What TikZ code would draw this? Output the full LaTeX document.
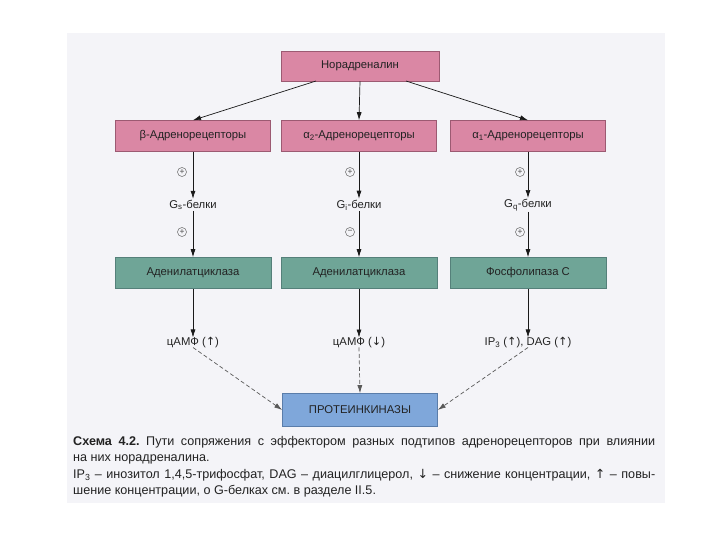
\documentclass[tikz,border=0pt]{standalone}
\usepackage{fontspec}
\setmainfont{Liberation Sans}
\newfontfamily\dvs{DejaVu Sans}
\usetikzlibrary{arrows.meta}
\definecolor{pagebg}{HTML}{F4F4F8}
\definecolor{pinkfill}{HTML}{DA87A4}
\definecolor{pinkdraw}{HTML}{9C5A72}
\definecolor{greenfill}{HTML}{6FA597}
\definecolor{greendraw}{HTML}{55807A}
\definecolor{bluefill}{HTML}{7FA7DA}
\definecolor{bluedraw}{HTML}{5A7DAA}
\definecolor{txt}{HTML}{222222}
\newcommand{\up}{{\dvs\char"2191}}
\newcommand{\down}{{\dvs\char"2193}}
\frenchspacing
\begin{document}
\begin{tikzpicture}[x=1pt,y=-1pt,
  boxbase/.style={minimum height=31pt, inner sep=0pt, text=txt,
    font=\fontsize{11.3}{13}\selectfont, line width=0.6pt},
  pinkbox/.style={boxbase, fill=pinkfill, draw=pinkdraw, minimum width=155pt},
  greenbox/.style={boxbase, fill=greenfill, draw=greendraw, minimum width=156pt},
  bluebox/.style={boxbase, fill=bluefill, draw=bluedraw, minimum width=155pt, minimum height=33pt},
  lbl/.style={text=txt, font=\fontsize{11.3}{13}\selectfont, inner sep=1pt},
  sgn/.style={circle, draw=black!60, text=black!70, inner sep=0pt, minimum size=9pt,
    line width=0.5pt, font=\fontsize{8.5}{8.5}\selectfont},
  arr/.style={-{Latex[length=8pt,width=5pt]}, line width=0.7pt, draw=black!90},
  darr/.style={-{Latex[length=8pt,width=5pt]}, line width=0.7pt, draw=black!65, dash pattern=on 4pt off 2.5pt},
  captxt/.style={anchor=base west, inner sep=0pt, text=txt, font=\fontsize{12.6}{14}\selectfont}
]
\useasboundingbox (0,0) rectangle (720,540);
\fill[pagebg] (67,33) rectangle (665,503);

% top
\node[pinkbox, minimum width=158pt, minimum height=30pt] (nor) at (360,66) {Норадреналин};

% receptors
\node[pinkbox] (rb) at (193,136) {β-Адренорецепторы};
\node[pinkbox] (ra2) at (359,136) {α\textsubscript{2}-Адренорецепторы};
\node[pinkbox] (ra1) at (528,136) {α\textsubscript{1}-Адренорецепторы};

% G proteins
\node[lbl] (gs) at (193,205) {G\textsubscript{s}-белки};
\node[lbl] (gi) at (359,205) {G\textsubscript{i}-белки};
\node[lbl] (gq) at (528,205) {G\textsubscript{q}-белки};

% enzymes
\node[greenbox] (ac1) at (193,273) {Аденилатциклаза};
\node[greenbox] (ac2) at (359,273) {Аденилатциклаза};
\node[greenbox] (plc) at (528,273) {Фосфолипаза С};

% messengers
\node[lbl] (m1) at (193,343) {цАМФ (\up)};
\node[lbl] (m2) at (359,343) {цАМФ (\down)};
\node[lbl] (m3) at (528,343) {IP\textsubscript{3} (\up), DAG (\up)};

% kinases
\node[bluebox] (pk) at (360,410) {ПРОТЕИНКИНАЗЫ};

% signs
\node[sgn] (s1) at (182,172) {+};
\node[sgn] (s2) at (350,172) {+};
\node[sgn] (s3) at (520,172) {+};
\node[sgn] (s4) at (182,232) {+};
\node[sgn] (s5) at (350,232) {−};
\node[sgn] (s6) at (520,232) {+};

% arrows
\coordinate (norl) at (316,81);
\coordinate (norr) at (406,81);
\draw[arr] (norl) -- (rb.north);
\draw[arr] (nor.south) -- (ra2.north);
\draw[arr] (norr) -- (ra1.north);

\draw[arr] (rb.south) -- (gs.north);
\draw[arr] (ra2.south) -- (gi.north);
\draw[arr] (ra1.south) -- (gq.north);

\draw[arr] (gs.south) -- (ac1.north);
\draw[arr] (gi.south) -- (ac2.north);
\draw[arr] (gq.south) -- (plc.north);

\draw[arr] (ac1.south) -- ([yshift=-1pt]m1.north);
\draw[arr] (ac2.south) -- ([yshift=-1pt]m2.north);
\draw[arr] (plc.south) -- ([yshift=-1pt]m3.north);

\draw[darr] ([yshift=2pt]m1.south) -- (pk.west);
\draw[darr] ([yshift=2pt]m2.south) -- (pk.north);
\draw[darr] ([yshift=2pt]m3.south) -- (pk.east);

% caption
\node[captxt] (c1) at (73,445) {\makebox[582pt][s]{\textbf{Схема 4.2.} Пути сопряжения с эффектором разных подтипов адренорецепторов при влиянии}};
\node[captxt] (c2) at (73,461) {на них норадреналина.};
\node[captxt] (c3) at (73,478) {\makebox[582pt][s]{IP\textsubscript{3} – инозитол 1,4,5-трифосфат, DAG – диацилглицерол, \down{} – снижение концентрации, \up{} – повы-}};
\node[captxt] (c4) at (73,494) {шение концентрации, о G-белках см. в разделе II.5.};
\end{tikzpicture}
\end{document}
